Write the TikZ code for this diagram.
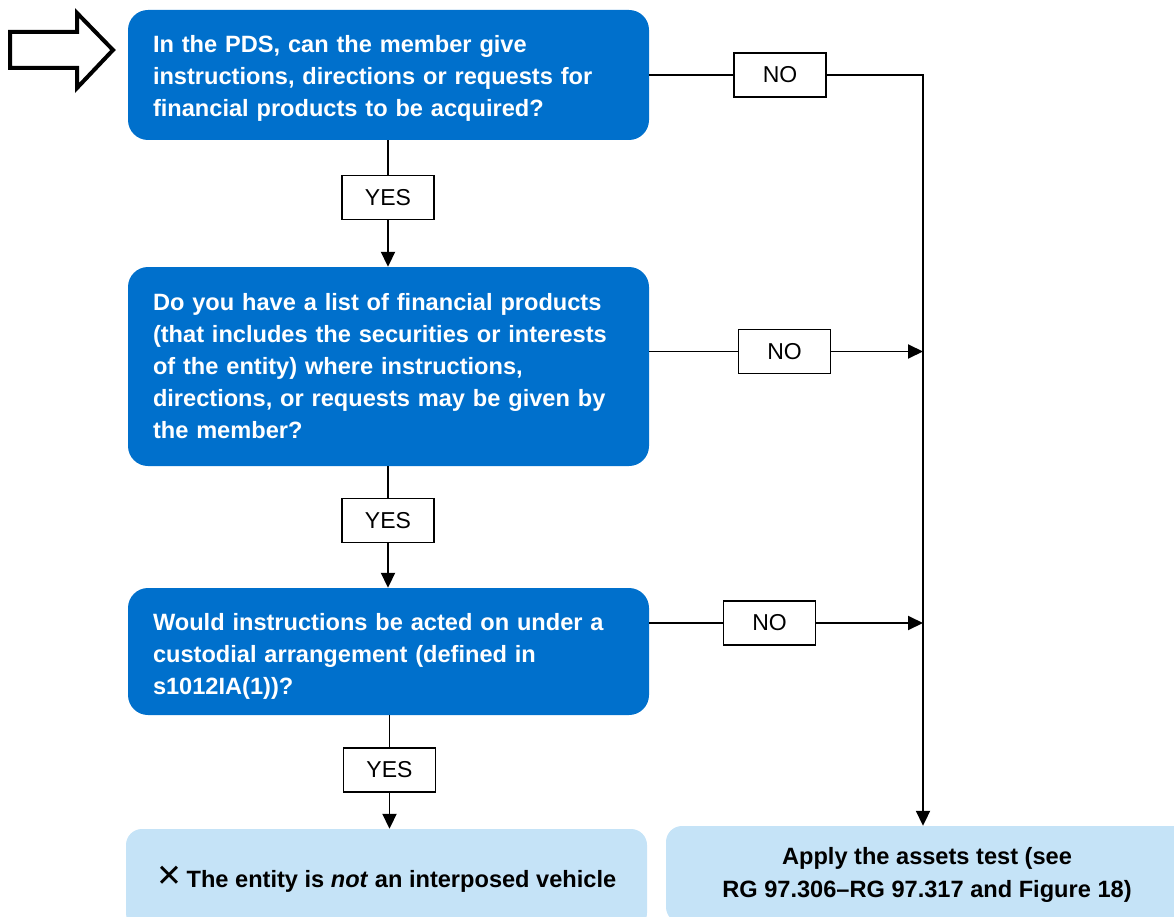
\documentclass[tikz,border=0pt]{standalone}
\usepackage{fontspec}
\setmainfont{Liberation Sans}
\newfontfamily\symfont{DejaVu Sans}
\usetikzlibrary{arrows.meta}

\definecolor{qblue}{RGB}{0,112,204}
\definecolor{ablue}{RGB}{197,227,247}

\begin{document}
\begin{tikzpicture}[x=1pt,y=-1pt,
  qbox/.style={fill=qblue, rounded corners=20pt, minimum width=521pt, inner sep=0pt},
  qtext/.style={text=white, font=\fontsize{23.6}{32}\selectfont\bfseries, align=left,
    text width=471pt, inner sep=0pt},
  answer/.style={fill=ablue, rounded corners=16pt, text=black,
    font=\fontsize{23.6}{33}\selectfont\bfseries, align=center, inner sep=0pt},
  tag/.style={draw=black, line width=1.3pt, fill=white,
    font=\fontsize{23}{28}\selectfont, minimum width=92pt, minimum height=44pt, inner sep=0pt},
  flow/.style={line width=1.9pt, draw=black},
  tip/.style={flow, -{Triangle[length=15pt,width=14pt]}}
]
\useasboundingbox (0,0) rectangle (1174,917);
\clip (0,0) rectangle (1174,917);

% start marker
\draw[line width=4pt, miter limit=10]
  (10,32) -- (77,32) -- (77,13) -- (113,50) -- (77,88) -- (77,68) -- (10,68) -- cycle;

% question boxes and their texts
\node[qbox, minimum height=130pt] (q1) at (388.5,75) {};
\node[qtext] (q1t) at ([yshift=-3pt]q1.center)
  {In the PDS, can the member give\\
   instructions, directions or requests for\\
   financial products to be acquired?};
\node[qbox, minimum height=199pt] (q2) at (388.5,366.5) {};
\node[qtext] (q2t) at (q2.center)
  {Do you have a list of financial products\\
   (that includes the securities or interests\\
   of the entity) where instructions,\\
   directions, or requests may be given by\\
   the member?};
\node[qbox, minimum height=127pt] (q3) at (388.5,651.5) {};
\node[qtext] (q3t) at ([yshift=-5pt]q3.center)
  {Would instructions be acted on under a\\
   custodial arrangement (defined in\\
   s1012IA(1))?};

% outcomes
\node[answer, minimum width=521pt, minimum height=100pt] (a1) at (386.5,879)
  {{\normalfont\symfont\fontsize{31}{31}\selectfont\raisebox{1pt}{✕}}\,The entity is \textit{not} an interposed vehicle};
\node[answer, minimum width=522pt, minimum height=97pt] (a2) at (927,874.5)
  {Apply the assets test (see\\RG 97.306–RG 97.317 and Figure 18)};
\coordinate (rail) at (923,0);

% labels
\node[tag] (y1) at (388,197.5) {YES};
\node[tag] (y2) at (388,520.5) {YES};
\node[tag] (y3) at (389.5,770) {YES};
\node[tag] (n1) at (780,75) {NO};
\node[tag] (n2) at (784.5,351.5) {NO};
\node[tag] (n3) at (769.5,623) {NO};

% YES path
\draw[flow] (q1.south -| y1) -- (y1);
\draw[tip] (y1) -- (y1 |- q2.north);
\draw[flow] (q2.south -| y2) -- (y2);
\draw[tip] (y2) -- (y2 |- q3.north);
\draw[flow] (q3.south -| y3) -- (y3);
\draw[tip] (y3) -- (y3 |- a1.north);

% NO path
\draw[flow] (q1.east |- n1) -- (n1);
\draw[tip] (n1) -| (rail |- a2.north);
\draw[flow] (q2.east |- n2) -- (n2);
\draw[tip] (n2) -- (n2 -| rail);
\draw[flow] (q3.east |- n3) -- (n3);
\draw[tip] (n3) -- (n3 -| rail);
\end{tikzpicture}
\end{document}
